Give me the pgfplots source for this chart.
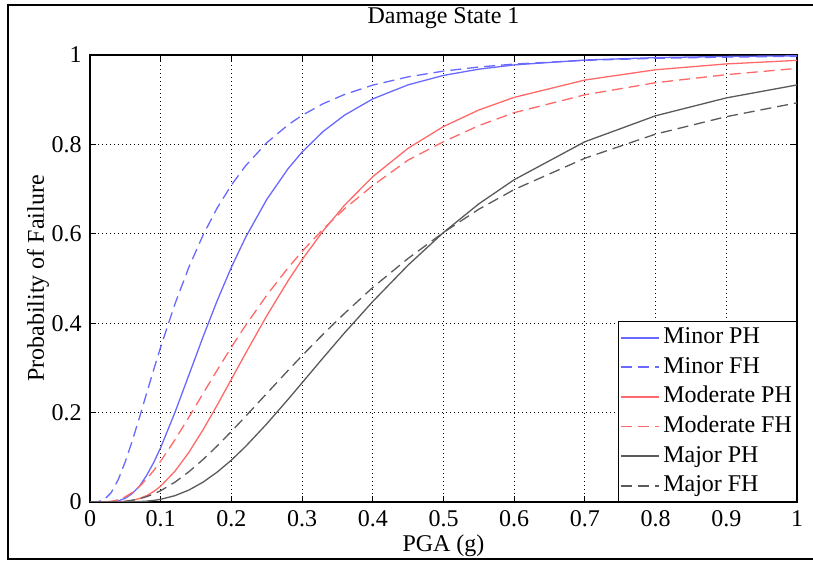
\documentclass[border=0pt]{standalone}
\usepackage{pgfplots}
\usepackage{pgfplotstable}
\pgfplotsset{compat=1.18}
\usepackage{fontspec}
\setmainfont{Liberation Serif}
\definecolor{cminor}{RGB}{105,105,255}
\definecolor{cmod}{RGB}{255,105,105}
\definecolor{cmaj}{RGB}{90,90,90}

\pgfplotstableread{
x A B C D E F
0 0 0 0 0 0 0
0.01 0.0000 0.0002 0.0000 0.0000 0.0000 0.0000
0.02 0.0000 0.0049 0.0000 0.0002 0.0000 0.0000
0.03 0.0005 0.0210 0.0001 0.0015 0.0000 0.0002
0.04 0.0026 0.0503 0.0003 0.0051 0.0000 0.0007
0.05 0.0083 0.0905 0.0013 0.0116 0.0001 0.0018
0.06 0.0192 0.1380 0.0035 0.0216 0.0004 0.0040
0.07 0.0356 0.1893 0.0078 0.0348 0.0009 0.0072
0.08 0.0593 0.2428 0.0142 0.0512 0.0019 0.0119
0.09 0.0880 0.2955 0.0233 0.0702 0.0035 0.0179
0.10 0.1219 0.3469 0.0356 0.0914 0.0061 0.0253
0.12 0.1998 0.4423 0.0685 0.1388 0.0141 0.0442
0.14 0.2846 0.5259 0.1114 0.1901 0.0268 0.0678
0.16 0.3698 0.5974 0.1618 0.2429 0.0445 0.0952
0.18 0.4508 0.6581 0.2170 0.2953 0.0670 0.1255
0.20 0.5252 0.7091 0.2746 0.3463 0.0937 0.1579
0.22 0.5918 0.7520 0.3324 0.3949 0.1241 0.1915
0.25 0.6768 0.8037 0.4165 0.4626 0.1748 0.2428
0.28 0.7453 0.8435 0.4945 0.5236 0.2293 0.2940
0.30 0.7829 0.8650 0.5422 0.5606 0.2667 0.3274
0.33 0.8292 0.8912 0.6071 0.6110 0.3230 0.3758
0.36 0.8654 0.9117 0.6639 0.6560 0.3783 0.4219
0.40 0.9018 0.9326 0.7279 0.7080 0.4486 0.4800
0.45 0.9333 0.9511 0.7914 0.7650 0.5300 0.5450
0.50 0.9543 0.9640 0.8400 0.8060 0.6030 0.6030
0.55 0.9683 0.9731 0.8770 0.8420 0.6670 0.6550
0.60 0.9778 0.9797 0.9052 0.8710 0.7210 0.6990
0.70 0.9888 0.9880 0.9440 0.9110 0.8060 0.7690
0.80 0.9941 0.9926 0.9670 0.9380 0.8640 0.8230
0.90 0.9968 0.9953 0.9800 0.9560 0.9040 0.8620
1.00 0.9982 0.9970 0.9880 0.9700 0.9330 0.8930
}\fragdata

\begin{document}
\fontsize{12}{14}\selectfont
\begin{tikzpicture}
\useasboundingbox (-45pt,-29.5pt) rectangle (361.5pt,251pt);
\fill[white] (-45pt,-29.5pt) rectangle (361.5pt,251pt);
\draw[line width=1pt] (362pt,248.5pt) -- (-41pt,248.5pt) -- (-41pt,-28.5pt) -- (362pt,-28.5pt);
\begin{axis}[
  at={(0pt,0pt)}, anchor=south west,
  scale only axis, width=353.5pt, height=223.5pt,
  xmin=0, xmax=1, ymin=0, ymax=1,
  xtick={0,0.1,...,1.01},
  xticklabels={0,0.1,0.2,0.3,0.4,0.5,0.6,0.7,0.8,0.9,1},
  ytick={0,0.2,0.4,0.6,0.8,1},
  yticklabels={0,0.2,0.4,0.6,0.8,1},
  tick align=inside, major tick length=3pt,
  axis line style={line width=0.6pt, black},
  every tick/.style={black, line width=0.5pt},
  grid=major,
  major grid style={black, line width=0.5pt, dash pattern=on 0.6pt off 1.4pt},
  title={Damage State 1},
  title style={at={(0.5,1)}, anchor=base, yshift=9.5pt},
  xlabel={PGA (g)},
  xlabel style={at={(axis description cs:0.5,0)}, anchor=base, yshift=-24.5pt},
  ylabel={Probability of Failure},
  ylabel style={at={(axis description cs:-0.0651,0.5)}, anchor=base},
  legend cell align=left,
  legend image code/.code={\draw[#1, line width=0.85pt] (0pt,0pt) -- (19pt,0pt);},
  legend style={at={(1,0)}, anchor=south east, draw=black, line width=0.5pt,
    fill=white, inner sep=0.5pt, row sep=0pt,
    nodes={inner xsep=1.8pt, inner ysep=1.4pt, text height=9pt, text depth=3pt}},
  every axis plot/.append style={line width=0.65pt},
]
\addplot[color=cminor, draw=cminor, solid] table[x=x,y=A]{\fragdata};
\addlegendentry{Minor PH}
\addplot[color=cminor, draw=cminor, dash pattern=on 5.5pt off 3pt] table[x=x,y=B]{\fragdata};
\addlegendentry{Minor FH}
\addplot[color=cmod, draw=cmod, solid] table[x=x,y=C]{\fragdata};
\addlegendentry{Moderate PH}
\addplot[color=cmod, draw=cmod, dash pattern=on 5.5pt off 3pt] table[x=x,y=D]{\fragdata};
\addlegendentry{Moderate FH}
\addplot[color=cmaj, draw=cmaj, solid] table[x=x,y=E]{\fragdata};
\addlegendentry{Major PH}
\addplot[color=cmaj, draw=cmaj, dash pattern=on 5.5pt off 3pt] table[x=x,y=F]{\fragdata};
\addlegendentry{Major FH}
\end{axis}
\end{tikzpicture}
\end{document}
